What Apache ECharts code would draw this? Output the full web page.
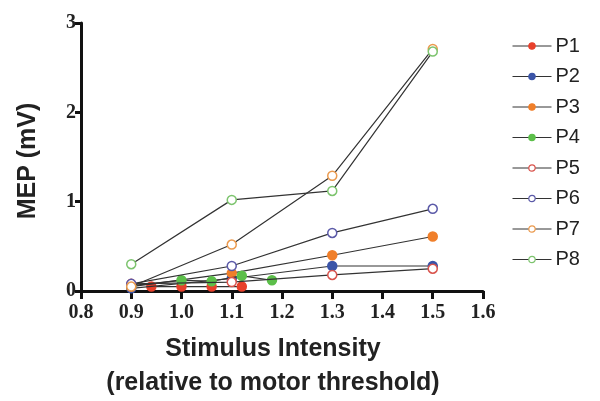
<!DOCTYPE html>
<html>
<head>
<meta charset="utf-8">
<script src="https://cdn.jsdelivr.net/npm/echarts@6/dist/echarts.min.js"></script>
<style>
  html, body { margin: 0; padding: 0; background: #fff; }
  #chart { width: 600px; height: 401px; }
</style>
</head>
<body>
<div id="chart"></div>
<script>
// data: [stimulus intensity, MEP]
var names = ['P1', 'P2', 'P3', 'P4', 'P5', 'P6', 'P7', 'P8']
var p1 = [[0.94, 0.05], [1.0, 0.05], [1.06, 0.05], [1.12, 0.05]]
var p2 = [[0.9, 0.03], [1.1, 0.14], [1.3, 0.28], [1.5, 0.28]]
var p3 = [[0.9, 0.05], [1.1, 0.2], [1.3, 0.4], [1.5, 0.61]]
var p4 = [[0.9, 0.06], [1.0, 0.12], [1.06, 0.11], [1.12, 0.17], [1.18, 0.12]]
var p5 = [[0.9, 0.08], [1.1, 0.1], [1.3, 0.18], [1.5, 0.25]]
var p6 = [[0.9, 0.08], [1.1, 0.28], [1.3, 0.65], [1.5, 0.92]]
var p7 = [[0.9, 0.05], [1.1, 0.52], [1.3, 1.29], [1.5, 2.71]]
var p8 = [[0.9, 0.3], [1.1, 1.02], [1.3, 1.12], [1.5, 2.68]]
var allData = [p1, p2, p3, p4, p5, p6, p7, p8]

var colors = ['#e8412c', '#3b55a8', '#f07f2a', '#5cbf4a', '#d9534c', '#5b5aa8', '#eb9a4e', '#7dc46e']
var filled = [true, true, true, true, false, false, false, false]

var myChart = echarts.init(document.getElementById('chart'))

var series = allData.map(function (d, i) {
  return {
    name: names[i],
    type: 'line',
    data: d,
    symbol: 'circle',
    symbolSize: 9,
    lineStyle: { color: '#333', width: 1.2 },
    itemStyle: {
      color: filled[i] ? colors[i] : '#fff',
      borderColor: colors[i],
      borderWidth: 1.5
    },
    emphasis: { disabled: true },
    z: 2 + i
  }
})

var option = {
  animation: false,
  grid: { left: 81, right: 117, top: 23, bottom: 110, outerBoundsMode: 'none' },
  legend: {
    orient: 'vertical',
    left: 507,
    top: 31,
    itemWidth: 39,
    itemHeight: 8,
    itemGap: 10.5,
    itemStyle: { borderWidth: 1.2 },
    lineStyle: { width: 1 },
    textStyle: { fontFamily: 'Liberation Sans', fontSize: 20, color: '#222', padding: [0, 0, 0, -1] },
    data: names
  },
  xAxis: {
    type: 'value',
    min: 0.8,
    max: 1.6,
    interval: 0.1,
    name: 'Stimulus Intensity\n(relative to motor threshold)',
    nameLocation: 'middle',
    nameGap: 41,
    nameTextStyle: {
      fontFamily: 'Liberation Sans', fontWeight: 'bold', fontSize: 25,
      color: '#222', lineHeight: 34, padding: [0, 18, 0, 0]
    },
    splitLine: { show: false },
    axisLine: { lineStyle: { color: '#111', width: 3 } },
    axisTick: { length: 8, lineStyle: { color: '#111', width: 3 } },
    axisLabel: {
      fontFamily: 'Liberation Serif', fontWeight: 'bold', fontSize: 20, color: '#222', margin: 12,
      formatter: function (v) { return v.toFixed(1) }
    }
  },
  yAxis: {
    type: 'value',
    min: 0,
    max: 3,
    interval: 1,
    name: 'MEP (mV)',
    nameLocation: 'middle',
    nameGap: 40,
    nameTextStyle: {
      fontFamily: 'Liberation Sans', fontWeight: 'bold', fontSize: 25, color: '#222',
      padding: [0, 8, 0, 0]
    },
    splitLine: { show: false },
    axisLine: { show: true, lineStyle: { color: '#111', width: 3 } },
    axisTick: { show: true, length: 6, lineStyle: { color: '#111', width: 3 } },
    axisLabel: { fontFamily: 'Liberation Serif', fontWeight: 'bold', fontSize: 20, color: '#222', margin: 5 }
  },
  series: series
}

myChart.setOption(option)
</script>
</body>
</html>
